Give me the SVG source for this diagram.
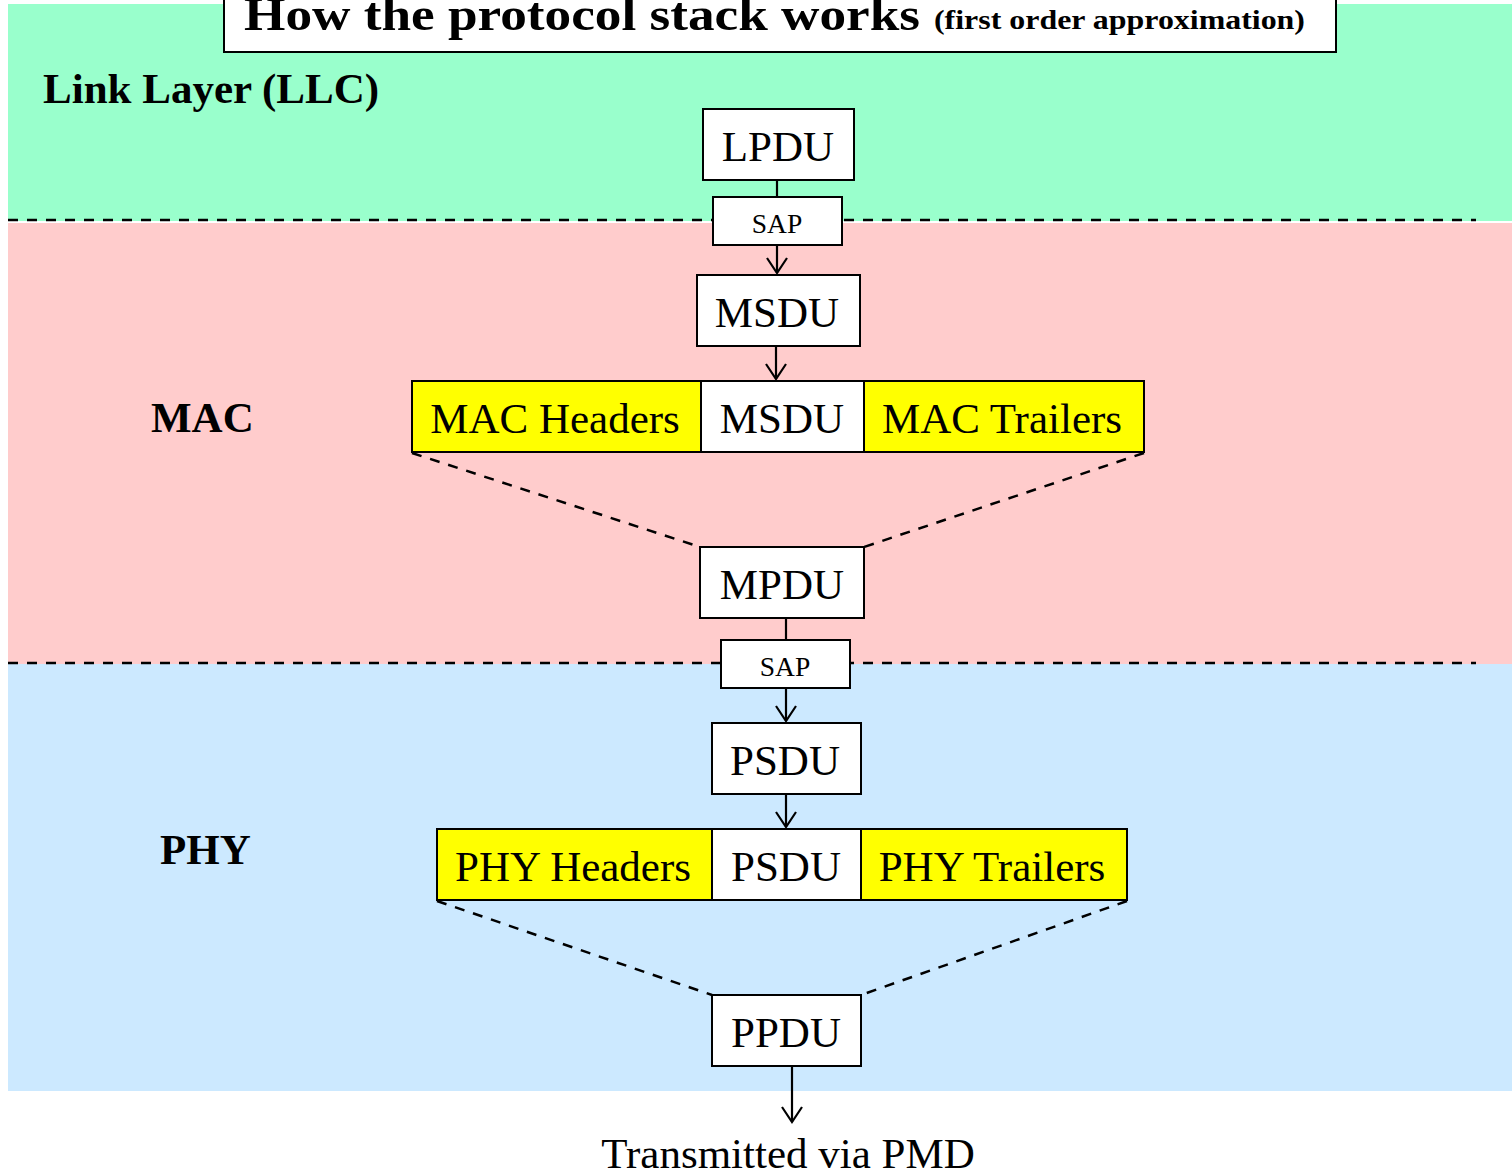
<svg xmlns="http://www.w3.org/2000/svg" width="1512" height="1175" viewBox="0 0 1512 1175">
<style>
.box{fill:#fff;stroke:#000;stroke-width:2}
.ybox{fill:#ffff00;stroke:#000;stroke-width:2}
.t{font-family:"Liberation Serif","Times New Roman",serif;fill:#000}
.big{font-size:43px}
.sap{font-size:27.5px}
.lbl{font-size:43px;font-weight:bold}
.ln{stroke:#000;stroke-width:2.2;fill:none}
.dash{stroke:#000;stroke-width:2.5;fill:none;stroke-dasharray:10 9}
</style>
<rect x="0" y="0" width="1512" height="1175" fill="#fff"/>
<g id="bands">
<rect x="8" y="4" width="1504" height="217" fill="#99ffcc"/>
<rect x="8" y="223" width="1504" height="441" fill="#ffcccc"/>
<rect x="8" y="664" width="1504" height="427" fill="#cce9ff"/>
</g>
<g id="title">
<rect x="224" y="-6" width="1112" height="58" class="box"/>
<text x="244" y="30" class="t" font-size="46" font-weight="bold" textLength="676" lengthAdjust="spacingAndGlyphs">How the protocol stack works</text>
<text x="934" y="29" class="t" font-size="28" font-weight="bold" textLength="371" lengthAdjust="spacingAndGlyphs">(first order approximation)</text>
</g>
<g id="layer-labels">
<text x="43" y="103" class="t lbl">Link Layer (LLC)</text>
<text x="151" y="432" class="t lbl">MAC</text>
<text x="160" y="864" class="t lbl">PHY</text>
</g>
<g id="connectors">
<line x1="8" y1="220" x2="1476" y2="220" class="dash"/>
<line x1="8" y1="663" x2="1476" y2="663" class="dash"/>
<line x1="777" y1="180" x2="777" y2="197" class="ln"/>
<line x1="777" y1="245" x2="777" y2="273" class="ln"/>
<polyline points="767,258 777,273 787,258" class="ln"/>
<line x1="776" y1="346" x2="776" y2="379" class="ln"/>
<polyline points="766,364 776,379 786,364" class="ln"/>
<line x1="412" y1="453" x2="700" y2="547" class="dash"/>
<line x1="1144" y1="453" x2="864" y2="547" class="dash"/>
<line x1="786" y1="618" x2="786" y2="640" class="ln"/>
<line x1="786" y1="688" x2="786" y2="721" class="ln"/>
<polyline points="776,706 786,721 796,706" class="ln"/>
<line x1="786" y1="794" x2="786" y2="827" class="ln"/>
<polyline points="776,812 786,827 796,812" class="ln"/>
<line x1="437" y1="901" x2="712" y2="995" class="dash"/>
<line x1="1127" y1="901" x2="861" y2="995" class="dash"/>
<line x1="792" y1="1066" x2="792" y2="1122" class="ln"/>
<polyline points="782,1107 792,1122 802,1107" class="ln"/>
</g>
<g id="LPDU">
<rect x="703" y="109" width="151" height="71" class="box"/>
<text x="778" y="161" text-anchor="middle" class="t big">LPDU</text>
</g>
<g id="SAP1">
<rect x="713" y="197" width="129" height="48" class="box"/>
<text x="777" y="233" text-anchor="middle" class="t sap">SAP</text>
</g>
<g id="MSDU">
<rect x="697" y="275" width="163" height="71" class="box"/>
<text x="777" y="327" text-anchor="middle" class="t big">MSDU</text>
</g>
<g id="MACframe">
<rect x="412" y="381" width="289" height="71" class="ybox"/>
<rect x="701" y="381" width="163" height="71" class="box"/>
<rect x="864" y="381" width="280" height="71" class="ybox"/>
<text x="555" y="433" text-anchor="middle" class="t big">MAC Headers</text>
<text x="782" y="433" text-anchor="middle" class="t big">MSDU</text>
<text x="1002" y="433" text-anchor="middle" class="t big">MAC Trailers</text>
</g>
<g id="MPDU">
<rect x="700" y="547" width="164" height="71" class="box"/>
<text x="782" y="599" text-anchor="middle" class="t big">MPDU</text>
</g>
<g id="SAP2">
<rect x="721" y="640" width="129" height="48" class="box"/>
<text x="785" y="676" text-anchor="middle" class="t sap">SAP</text>
</g>
<g id="PSDU">
<rect x="712" y="723" width="149" height="71" class="box"/>
<text x="785" y="775" text-anchor="middle" class="t big">PSDU</text>
</g>
<g id="PHYframe">
<rect x="437" y="829" width="275" height="71" class="ybox"/>
<rect x="712" y="829" width="149" height="71" class="box"/>
<rect x="861" y="829" width="266" height="71" class="ybox"/>
<text x="573" y="881" text-anchor="middle" class="t big">PHY Headers</text>
<text x="786" y="881" text-anchor="middle" class="t big">PSDU</text>
<text x="992" y="881" text-anchor="middle" class="t big">PHY Trailers</text>
</g>
<g id="PPDU">
<rect x="712" y="995" width="149" height="71" class="box"/>
<text x="786" y="1047" text-anchor="middle" class="t big">PPDU</text>
</g>
<g id="PMD">
<text x="788" y="1168" text-anchor="middle" class="t big">Transmitted via PMD</text>
</g>
</svg>
